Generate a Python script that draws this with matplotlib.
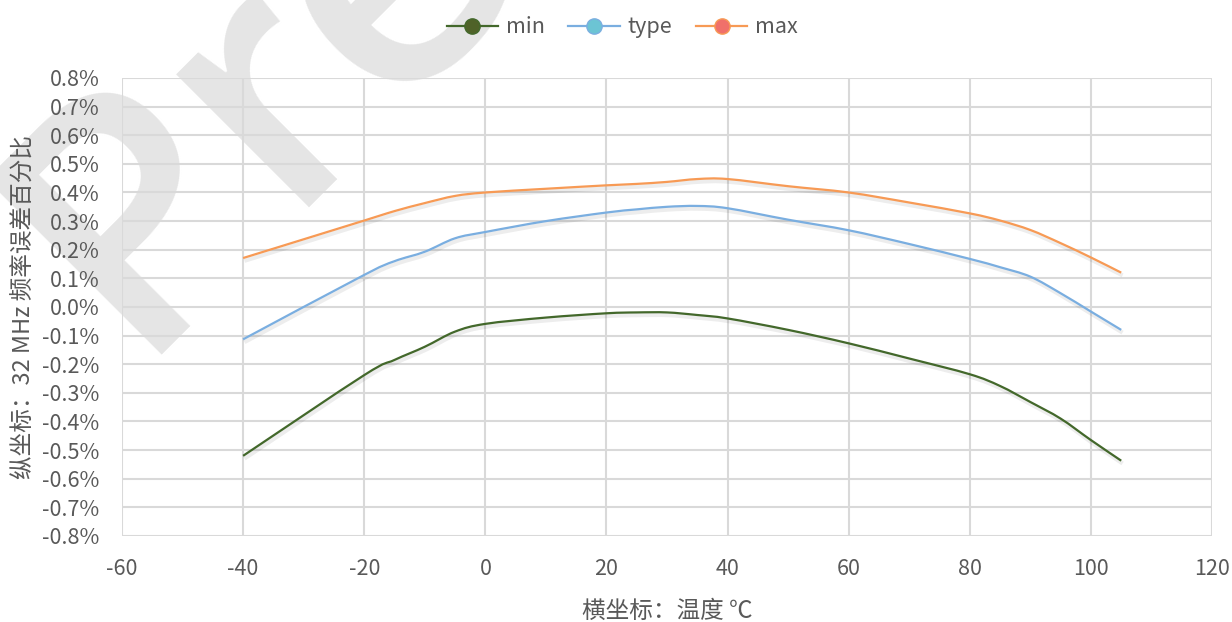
import matplotlib
matplotlib.use("Agg")
import matplotlib.pyplot as plt
import matplotlib.patheffects as pe
from matplotlib.path import Path
from matplotlib.patches import PathPatch
from matplotlib.lines import Line2D
from matplotlib.ticker import FuncFormatter, MultipleLocator

plt.rcParams['font.family'] = ['Noto Sans CJK SC', 'DejaVu Sans']
plt.rcParams['axes.unicode_minus'] = False

temps = [-40, -20, -15, -10, -5, 0, 10, 20, 25, 30, 35, 40, 50, 60, 70, 80, 85, 90, 95, 100, 105]
err_min = [-0.52, -0.238, -0.185, -0.139, -0.086, -0.059, -0.037, -0.022, -0.019, -0.019,
           -0.028, -0.040, -0.080, -0.127, -0.180, -0.235, -0.276, -0.332, -0.390, -0.465, -0.537]
err_type = [-0.113, 0.112, 0.160, 0.193, 0.240, 0.262, 0.300, 0.330, 0.341, 0.350,
            0.353, 0.345, 0.305, 0.268, 0.220, 0.168, 0.139, 0.106, 0.048, -0.016, -0.080]
err_max = [0.171, 0.302, 0.335, 0.363, 0.388, 0.400, 0.413, 0.425, 0.430, 0.437,
           0.447, 0.447, 0.422, 0.400, 0.365, 0.327, 0.302, 0.269, 0.223, 0.173, 0.120]

series = [("min", err_min, "#43682b", "#4f6228"),
          ("type", err_type, "#7aaee0", "#6cc4d4"),
          ("max", err_max, "#f79a55", "#f0706a")]

text_color = "#595959"
grid_color = "#d9d9d9"


def smooth_path(xs, ys):
    # Excel style smoothed line: cubic bezier segments through the points
    verts = [(xs[0], ys[0])]
    codes = [Path.MOVETO]
    n = len(xs)
    for i in range(n - 1):
        x0, y0 = (xs[i - 1], ys[i - 1]) if i > 0 else (xs[i], ys[i])
        x1, y1 = xs[i], ys[i]
        x2, y2 = xs[i + 1], ys[i + 1]
        x3, y3 = (xs[i + 2], ys[i + 2]) if i + 2 < n else (x2, y2)
        c1 = (x1 + (x2 - x0) / 6, y1 + (y2 - y0) / 6)
        c2 = (x2 - (x3 - x1) / 6, y2 - (y3 - y1) / 6)
        verts += [c1, c2, (x2, y2)]
        codes += [Path.CURVE4] * 3
    return Path(verts, codes)


fig = plt.figure(figsize=(12.32, 6.22), dpi=100)
ax = fig.add_axes([0.099, 0.1383, 0.8848, 0.7363])
ax.patch.set_alpha(0)

# watermark, drawn beneath the axes
fig.text(0.105, 0.43, "Preview", fontsize=250, color="#e5e5e5", rotation=45,
         rotation_mode="anchor", ha="left", va="baseline", zorder=-1,
         family="Open Sans", fontweight="semibold")

shadow = [pe.SimpleLineShadow(offset=(1.0, -2.0), shadow_color="#000000", alpha=0.07, linewidth=3.0),
          pe.Normal()]

handles = []
for name, vals, line_c, marker_c in series:
    patch = PathPatch(smooth_path(temps, vals), fill=False, edgecolor=line_c,
                      linewidth=1.6, transform=ax.transData, zorder=3,
                      capstyle="butt", joinstyle="round")
    patch.set_path_effects(shadow)
    ax.add_patch(patch)
    handles.append(Line2D([], [], color=line_c, linewidth=1.6, marker="o",
                          markersize=11, markerfacecolor=marker_c,
                          markeredgecolor=line_c, markeredgewidth=1.0, label=name))

ax.set_xlim(-60, 120)
ax.set_ylim(-0.8, 0.8)
ax.xaxis.set_major_locator(MultipleLocator(20))
ax.yaxis.set_major_locator(MultipleLocator(0.1))
ax.yaxis.set_major_formatter(FuncFormatter(lambda v, p: "{:.1f}%".format(v)))
ax.grid(True, color=grid_color, linewidth=1.5)
ax.set_axisbelow(True)
for s in ax.spines.values():
    s.set_visible(False)
ax.tick_params(length=0, labelsize=15.5, labelcolor=text_color)
ax.tick_params(axis="y", pad=16)
ax.tick_params(axis="x", pad=16)

ax.set_xlabel("横坐标：温度 ℃", fontsize=17, color=text_color, labelpad=14)
ax.set_ylabel("纵坐标：32 MHz 频率误差百分比", fontsize=17, color=text_color, labelpad=5)

fig.legend(handles=handles, loc="upper center", bbox_to_anchor=(0.505, 1.005), ncol=3,
           frameon=False, fontsize=15.5, labelcolor=text_color, handlelength=2.4,
           columnspacing=1.1, handletextpad=0.35)

fig.savefig("out.png", dpi=100)
